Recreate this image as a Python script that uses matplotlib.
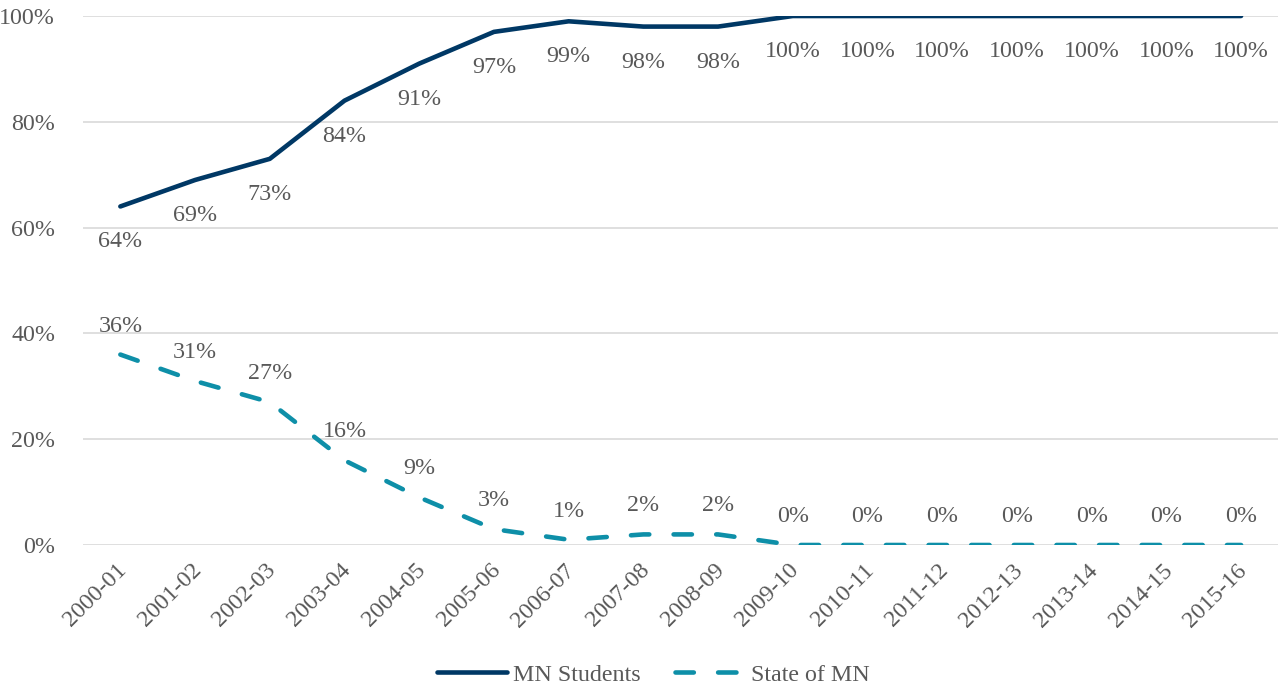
import matplotlib
matplotlib.use("Agg")
import matplotlib.pyplot as plt
import matplotlib.transforms as mtransforms
from matplotlib.ticker import PercentFormatter

years = ["2000-01", "2001-02", "2002-03", "2003-04", "2004-05", "2005-06", "2006-07",
         "2007-08", "2008-09", "2009-10", "2010-11", "2011-12", "2012-13", "2013-14",
         "2014-15", "2015-16"]
mn_students = [64, 69, 73, 84, 91, 97, 99, 98, 98, 100, 100, 100, 100, 100, 100, 100]
state_of_mn = [36, 31, 27, 16, 9, 3, 1, 2, 2, 0, 0, 0, 0, 0, 0, 0]

plt.rcParams['font.family'] = ['Liberation Serif', 'DejaVu Serif']
text_color = "#595959"
navy = "#003865"
teal = "#0e8fa8"
fs = 17.3

fig = plt.figure(figsize=(12.81, 6.87), dpi=100)
ax = fig.add_axes([0.0648, 0.2067, 0.9332, 0.77])

x = list(range(len(years)))
ax.plot(x, mn_students, color=navy, lw=3.3, solid_capstyle="round", label="MN Students", zorder=3)
ax.plot(x, state_of_mn, color=teal, lw=3.3, dashes=(4.0, 5.3), dash_capstyle="round",
        label="State of MN", zorder=3)

for xi, v in zip(x, mn_students):
    ax.annotate(f"{v}%", (xi, v), xytext=(0, -18), textcoords="offset points",
                ha="center", va="top", fontsize=fs, color=text_color)
for xi, v in zip(x, state_of_mn):
    ax.annotate(f"{v}%", (xi, v), xytext=(0, 13), textcoords="offset points",
                ha="center", va="bottom", fontsize=fs, color=text_color)

ax.set_xlim(-0.5, len(years) - 0.5)
ax.set_ylim(0, 100)
ax.set_yticks([0, 20, 40, 60, 80, 100])
ax.yaxis.set_major_formatter(PercentFormatter(decimals=0))
ax.set_xticks(x)
ax.set_xticklabels(years, rotation=45, ha="right", va="center", rotation_mode="anchor")
ax.tick_params(axis="both", length=0, labelsize=fs, colors=text_color)
ax.tick_params(axis="y", pad=20)
ax.tick_params(axis="x", pad=16)
offset = mtransforms.ScaledTranslation(3 / 100, 0, fig.dpi_scale_trans)
for lbl in ax.get_xticklabels():
    lbl.set_transform(lbl.get_transform() + offset)
ax.grid(axis="y", color="#d9d9d9", lw=1.2)
ax.set_axisbelow(True)
for s in ax.spines.values():
    s.set_visible(False)

leg = fig.legend(loc="center", bbox_to_anchor=(0.510, 0.018), ncol=2, frameon=False,
                 fontsize=fs, handlelength=2.9, columnspacing=1.45, handletextpad=0.25)
for t in leg.get_texts():
    t.set_color(text_color)

fig.savefig("out.png", dpi=100)
